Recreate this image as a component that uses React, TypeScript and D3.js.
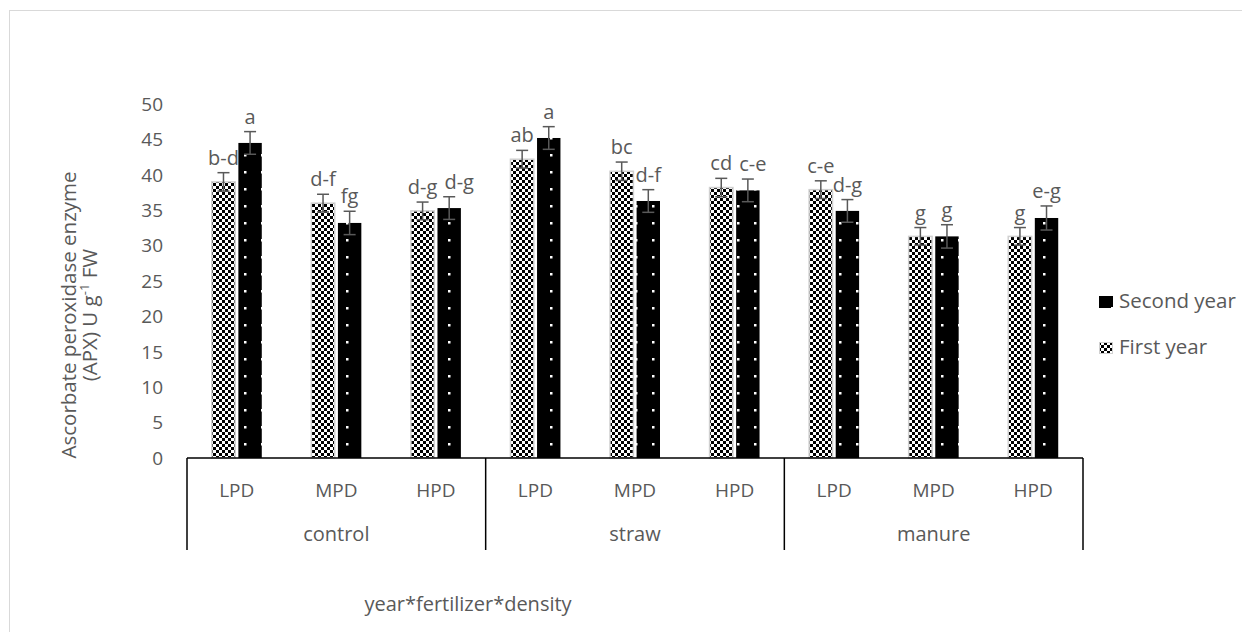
import React from "react";
import * as d3 from "d3";

const groups = ["control", "straw", "manure"];
const densities = ["LPD", "MPD", "HPD"];
const seriesNames = ["First year", "Second year"];
const firstYear = [39.0, 36.0, 34.9, 42.2, 40.5, 38.2, 37.9, 31.3, 31.3];
const secondYear = [44.5, 33.2, 35.3, 45.2, 36.3, 37.8, 34.9, 31.3, 33.9];
const firstErr = [1.3, 1.25, 1.25, 1.25, 1.3, 1.3, 1.25, 1.25, 1.25];
const secondErr = [1.6, 1.65, 1.6, 1.6, 1.6, 1.6, 1.6, 1.65, 1.7];
const firstLabels = ["b-d", "d-f", "d-g", "ab", "bc", "cd", "c-e", "g", "g"];
const secondLabels = ["a", "fg", "d-g", "a", "d-f", "c-e", "d-g", "g", "e-g"];
const yTicks = [0, 5, 10, 15, 20, 25, 30, 35, 40, 45, 50];

const W = 1242;
const H = 632;
const FONT = "'Open Sans', sans-serif";
const GRAY = "#595959";
const LABEL_SIZE = 20;

function textWidth(s: string, size: number) {
  const w: Record<string, number> = { "-": 0.32, a: 0.56, b: 0.61, c: 0.48, d: 0.61, e: 0.56, f: 0.34, g: 0.55 };
  return s.split("").reduce((acc, ch) => acc + (w[ch] ?? 0.56), 0) * size;
}

export default function App() {
  const left = 187;
  const right = 1083;
  const y0 = 458;
  const y = d3.scaleLinear().domain([0, 50]).range([y0, 104]);
  const cats = groups.flatMap((g) => densities.map((d) => `${g}|${d}`));
  const x = d3.scaleBand().domain(cats).range([left, right]).paddingInner(0).paddingOuter(0);
  const inner = d3
    .scaleBand()
    .domain(seriesNames)
    .range([x.bandwidth() / 2 - 25, x.bandwidth() / 2 + 25])
    .paddingInner(0.12)
    .paddingOuter(0);
  const gx = d3.scaleBand().domain(groups).range([left, right]);
  const bw = inner.bandwidth();

  const series = [
    { name: "First year", vals: firstYear, errs: firstErr, labels: firstLabels, fill: "url(#pFirst)", stroke: "#d0d0d0" },
    { name: "Second year", vals: secondYear, errs: secondErr, labels: secondLabels, fill: "url(#pSecond)", stroke: "none" },
  ];

  // label placement with simple collision avoidance (second label nudged right)
  const labelPos = cats.map((c, i) => {
    const pos = series.map((s) => {
      const cx = (x(c) as number) + (inner(s.name) as number) + bw / 2;
      return { cx, by: y(s.vals[i] + s.errs[i]) - 8, w: textWidth(s.labels[i], LABEL_SIZE) };
    });
    const [a, b] = pos;
    if (Math.abs(a.by - b.by) < 15) {
      const aRight = a.cx + a.w / 2;
      const bLeft = b.cx - b.w / 2;
      const need = aRight + 7 - bLeft;
      if (need > 0) b.cx += need;
    }
    return pos;
  });

  return (
    <svg
      width={W}
      height={H}
      style={{ position: "absolute", left: 0, top: 0, background: "#fff" }}
      fontFamily={FONT}
    >
      <defs>
        <pattern id="pFirst" patternUnits="userSpaceOnUse" width="6" height="6">
          <rect width="6" height="6" fill="#fff" />
          <rect x="0" y="0" width="3" height="3" fill="#000" />
          <rect x="3" y="3" width="3" height="3" fill="#000" />
        </pattern>
        <pattern id="pSecond" patternUnits="userSpaceOnUse" width="17" height="17" x="6" y="1">
          <rect width="17" height="17" fill="#000" />
          <rect x="0" y="0" width="2.5" height="2.5" fill="#fff" />
        </pattern>
      </defs>
      <rect x={9.5} y={10.5} width={1240} height={630} fill="none" stroke="#d9d9d9" strokeWidth={1} />

      {/* y ticks */}
      {yTicks.map((t) => (
        <text key={t} x={163} y={y(t)} dy="0.36em" textAnchor="end" fontSize={19} fill={GRAY}>
          {t}
        </text>
      ))}

      {/* bars */}
      {series.map((s, si) =>
        cats.map((c, i) => {
          const bx = (x(c) as number) + (inner(s.name) as number);
          const top = y(s.vals[i]);
          const cx = bx + bw / 2;
          const eTop = y(s.vals[i] + s.errs[i]);
          const eBot = y(s.vals[i] - s.errs[i]);
          const lp = labelPos[i][si];
          return (
            <g key={s.name + c}>
              <rect x={bx} y={top} width={bw} height={y0 - top} fill={s.fill} stroke={s.stroke} strokeWidth={1.5} />
              <line x1={cx} x2={cx} y1={eTop} y2={eBot} stroke={GRAY} strokeWidth={1.5} />
              <line x1={cx - 6} x2={cx + 6} y1={eTop} y2={eTop} stroke={GRAY} strokeWidth={1.5} />
              <line x1={cx - 6} x2={cx + 6} y1={eBot} y2={eBot} stroke={GRAY} strokeWidth={1.5} />
              <text x={lp.cx} y={lp.by} textAnchor="middle" fontSize={LABEL_SIZE} fill={GRAY}>
                {s.labels[i]}
              </text>
            </g>
          );
        })
      )}

      {/* x axis */}
      <line x1={left} x2={right} y1={y0} y2={y0} stroke="#000" strokeWidth={1.5} />
      {[...groups.map((g) => gx(g) as number), right].map((v, i) => (
        <line key={i} x1={v} x2={v} y1={y0} y2={550} stroke="#000" strokeWidth={1.5} />
      ))}
      {cats.map((c) => (
        <text key={c} x={(x(c) as number) + x.bandwidth() / 2} y={497} textAnchor="middle" fontSize={19} fill={GRAY}>
          {c.split("|")[1]}
        </text>
      ))}
      {groups.map((g) => (
        <text key={g} x={(gx(g) as number) + gx.bandwidth() / 2} y={541} textAnchor="middle" fontSize={20} fill={GRAY}>
          {g}
        </text>
      ))}
      <text x={468} y={611} textAnchor="middle" fontSize={20} fill={GRAY}>
        year*fertilizer*density
      </text>

      {/* y title */}
      <g transform="translate(76,315) rotate(-90)">
        <text x={0} y={0} textAnchor="middle" fontSize={20.5} fill={GRAY}>
          Ascorbate peroxidase enzyme
        </text>
      </g>
      <g transform="translate(97,315) rotate(-90)">
        <text x={0} y={0} textAnchor="middle" fontSize={20.5} fill={GRAY}>
          (APX) U g
          <tspan fontSize={13} dy={-8}>-1</tspan>
          <tspan dy={8}> FW</tspan>
        </text>
      </g>

      {/* legend */}
      <rect x={1099} y={296} width={14} height={12} fill="url(#pSecond)" />
      <text x={1119} y={308} fontSize={20.5} fill={GRAY}>
        Second year
      </text>
      <rect x={1099.5} y={342.5} width={13} height={11} fill="url(#pFirst)" stroke="#d0d0d0" strokeWidth={1} />
      <text x={1119} y={354} fontSize={20.5} fill={GRAY}>
        First year
      </text>
    </svg>
  );
}
